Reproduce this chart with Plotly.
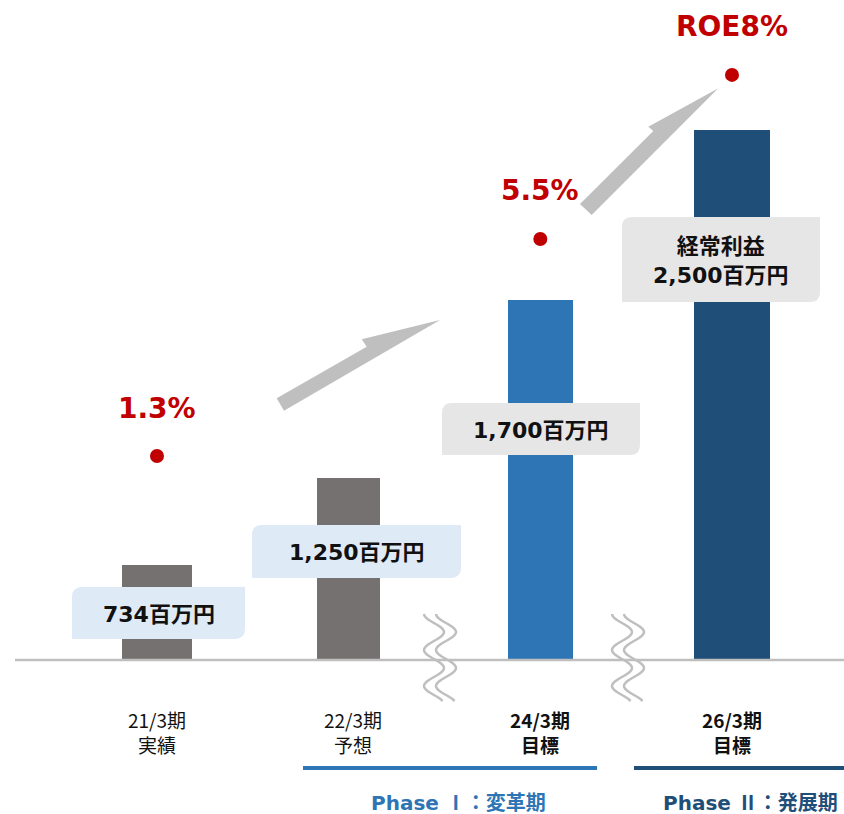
import plotly.graph_objects as go

# ---------------- data ----------------
periods = ["21/3期", "22/3期", "24/3期", "26/3期"]
period_notes = ["実績", "予想", "目標", "目標"]
profit = [734, 1250, 1700, 2500]          # 経常利益（百万円）
# drawn bar heights on the broken axis (first two bars are compressed, see break marks)
bar_drawn = [448, 858, 1700, 2500]
roe_period_idx = [0, 2, 3]
roe_labels = ["1.3%", "5.5%", "ROE8%"]
roe_drawn = [962, 1986, 2760]            # marker levels as drawn
phase_names = ["Phase", "Phase"]
phase_numerals = ["Ⅰ", "Ⅱ"]
phase_stage = ["変革期", "発展期"]

# ---------------- style ----------------
W, H = 844, 814
bar_colors = ["#767171", "#767171", "#2e75b6", "#1f4e79"]
bar_widths = [0.37, 0.33, 0.34, 0.40]
box_fill = ["#deebf7", "#deebf7", "#e7e6e6", "#e7e6e6"]
box_px = [(72, 587, 245, 639), (252, 525, 461, 578), (442, 403, 640, 455), (622, 217, 820, 302)]
RED = "#c00000"
GREY = "#bfbfbf"
NUM_FONT = "DejaVu Sans, Noto Sans CJK JP, sans-serif"
JP_FONT = "Noto Sans CJK JP, sans-serif"

def px(x):
    return x / W

def py(y):
    return 1 - y / H

x_pos = list(range(len(periods)))

fig = go.Figure()
fig.add_trace(go.Bar(
    x=x_pos, y=bar_drawn, width=bar_widths,
    marker=dict(color=bar_colors, line=dict(width=0)),
    customdata=profit, hovertemplate="%{customdata:,}百万円<extra></extra>",
))
fig.add_trace(go.Scatter(
    x=[x_pos[i] for i in roe_period_idx], y=roe_drawn, mode="markers",
    marker=dict(color=RED, size=14), hoverinfo="skip",
))

shapes = []
annotations = []

# baseline
shapes.append(dict(type="line", xref="paper", yref="paper",
                   x0=px(15), x1=px(844), y0=py(660), y1=py(660),
                   line=dict(color=GREY, width=2.5), layer="above"))

# wave break marks
def wave_path(x_left, y_top=614, y_bot=702, amp=10, period=36):
    import math
    pts = []
    y = y_top
    while y <= y_bot:
        x = x_left + amp * (1 - math.cos(2 * math.pi * (y - y_top) / period))
        pts.append((x, y))
        y += 1.5
    d = "M " + " L ".join(f"{px(a):.5f},{py(b):.5f}" for a, b in pts)
    return d

for xl in (424, 612):
    for off in (0, 12):
        shapes.append(dict(type="path", xref="paper", yref="paper",
                           path=wave_path(xl + off),
                           line=dict(color=GREY, width=2.5), layer="above"))

# growth arrows
def poly(points):
    return "M " + " L ".join(f"{px(a):.5f},{py(b):.5f}" for a, b in points) + " Z"

arrow1 = [(276.7, 398.3), (366.7, 346.7), (361.7, 339.3), (440, 320), (284, 410.7)]
arrow2 = [(580, 204), (653.3, 131), (648.3, 126.7), (718.3, 88.3), (591.7, 215)]
for a in (arrow1, arrow2):
    shapes.append(dict(type="path", xref="paper", yref="paper", path=poly(a),
                       fillcolor=GREY, line=dict(width=0), layer="above"))

# value label boxes (diagonal rounded corners)
def diag_round(x0, y0, x1, y1, r=10):
    P = lambda a, b: f"{px(a):.5f},{py(b):.5f}"
    return (f"M {P(x0 + r, y0)} L {P(x1, y0)} L {P(x1, y1 - r)} Q {P(x1, y1)} {P(x1 - r, y1)} "
            f"L {P(x0, y1)} L {P(x0, y0 + r)} Q {P(x0, y0)} {P(x0 + r, y0)} Z")

for i, (x0, y0, x1, y1) in enumerate(box_px):
    shapes.append(dict(type="path", xref="paper", yref="paper",
                       path=diag_round(x0, y0, x1, y1), fillcolor=box_fill[i],
                       line=dict(width=0), layer="above"))
    txt = f"<b>{profit[i]:,}百万円</b>"
    if i == len(profit) - 1:
        txt = "<b>経常利益</b><br>" + txt
    annotations.append(dict(xref="paper", yref="paper", x=px((x0 + x1) / 2), y=py((y0 + y1) / 2 + 1),
                            text=txt, showarrow=False, xanchor="center", yanchor="middle",
                            font=dict(family=NUM_FONT, size=22, color="#111111")))

# ROE labels
for j, i in enumerate(roe_period_idx):
    annotations.append(dict(xref="x", yref="y", x=x_pos[i], y=roe_drawn[j], yshift=48,
                            text=f"<b>{roe_labels[j]}</b>", showarrow=False,
                            xanchor="center", yanchor="middle",
                            font=dict(family=NUM_FONT, size=28, color=RED)))

# category labels
for i in x_pos:
    t = f"{periods[i]}<br>{period_notes[i]}"
    if i >= 2:
        t = f"<b>{periods[i]}</b><br><b>{period_notes[i]}</b>"
    annotations.append(dict(xref="x", yref="paper", x=i, y=py(732), text=t, showarrow=False,
                            xanchor="center", yanchor="middle", xshift=(4 if i == 1 else 0),
                            font=dict(family=JP_FONT, size=19, color="#111111")))

# phase lines and labels
shapes.append(dict(type="line", xref="paper", yref="paper", x0=px(303), x1=px(597),
                   y0=py(768), y1=py(768), line=dict(color="#2e75b6", width=4)))
shapes.append(dict(type="line", xref="paper", yref="paper", x0=px(634), x1=px(844),
                   y0=py(768), y1=py(768), line=dict(color="#1f4e79", width=4)))

phase_colors = ["#2e75b6", "#1f4e79"]
phase_x = [370, 662]
for k in range(2):
    txt = (f"<b>{phase_names[k]} <span style='font-family:Noto Sans CJK JP'>"
           f"{phase_numerals[k]}：{phase_stage[k]}</span></b>")
    annotations.append(dict(xref="paper", yref="paper", x=px(phase_x[k]), y=py(801),
                            text=txt, showarrow=False, xanchor="left", yanchor="middle",
                            borderpad=0,
                            font=dict(family=NUM_FONT, size=20, color=phase_colors[k])))

fig.update_layout(
    width=W, height=H, margin=dict(l=0, r=0, t=0, b=0),
    paper_bgcolor="white", plot_bgcolor="white", showlegend=False,
    xaxis=dict(range=[-0.8191, 3.5844], visible=False, fixedrange=True),
    yaxis=dict(range=[-726.4, 3113.2], visible=False, fixedrange=True),
    shapes=shapes, annotations=annotations, bargap=0,
)

fig.write_html(
    "out.html",
    config={"displayModeBar": False},
    post_script="document.body.style.margin='0';document.body.style.overflow='hidden';",
)
